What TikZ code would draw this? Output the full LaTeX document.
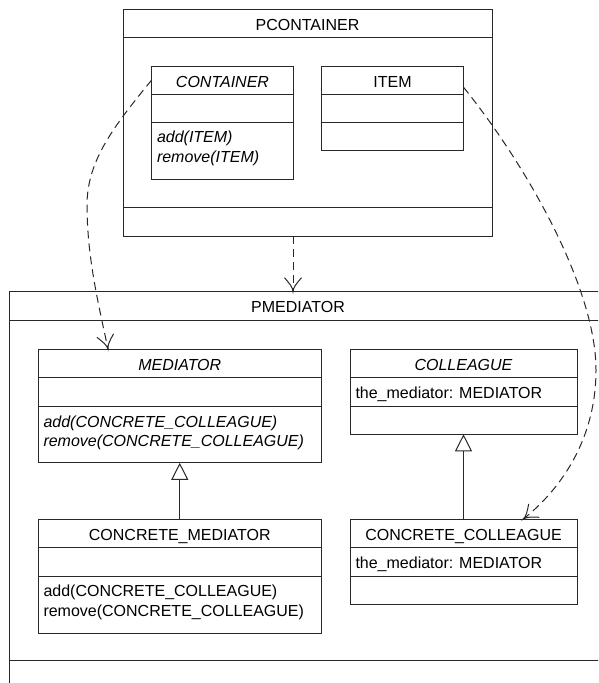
\documentclass[tikz,border=0pt]{standalone}
\usepackage{fontspec}
\setmainfont{Liberation Sans}
\usetikzlibrary{arrows.meta}
\definecolor{linecol}{RGB}{40,40,40}

% Open "Y"-shaped barb used on dependency arrows
\pgfdeclarearrow{
  name = YBarb,
  parameters = {\the\pgfarrowlength,\the\pgfarrowwidth},
  setup code = {
    \pgfarrowssettipend{0pt}
    \pgfarrowssetlineend{0pt}
    \pgfarrowssetbackend{-\pgfarrowlength}
    \pgfarrowssavethe\pgfarrowlength
    \pgfarrowssavethe\pgfarrowwidth
  },
  drawing code = {
    \pgfsetdash{}{0pt}
    \pgfpathmoveto{\pgfqpoint{-\pgfarrowlength}{.5\pgfarrowwidth}}
    \pgfpathcurveto{\pgfqpoint{-.6\pgfarrowlength}{.22\pgfarrowwidth}}{\pgfqpoint{-.3\pgfarrowlength}{0pt}}{\pgfqpoint{0pt}{0pt}}
    \pgfpathcurveto{\pgfqpoint{-.3\pgfarrowlength}{0pt}}{\pgfqpoint{-.6\pgfarrowlength}{-.22\pgfarrowwidth}}{\pgfqpoint{-\pgfarrowlength}{-.5\pgfarrowwidth}}
    \pgfusepathqstroke
  },
  defaults = {length = 14pt, width = 17pt}
}

% A class box with a header band and two compartments below it
\newcommand\umlclass[6]{%
  \node[umlbox, minimum width=#4pt, minimum height=#5pt] (#1) at (#2,#3) {};
  \node[hdr, minimum width=#4pt] (#1H) at (#2,#3) {#6};
  \draw[compline] (#1H.south west) -- (#1H.south east);
  \draw[compline] ([yshift=-28.4pt]#1H.south west) -- ([yshift=-28.4pt]#1H.south east);
}

\begin{document}
\begin{tikzpicture}[x=1pt,y=-1pt,
  line width=1pt,
  umlbox/.style={draw=linecol, rectangle, inner sep=0pt, outer sep=0pt, anchor=north west},
  hdr/.style={inner sep=0pt, outer sep=0pt, anchor=north west, text height=14pt, text depth=0pt, minimum height=28.4pt},
  member/.style={anchor=base west, inner sep=0pt},
  compline/.style={draw=linecol},
  dep/.style={draw=linecol, dash pattern=on 8pt off 5pt, -{YBarb[length=14pt,width=17pt]}},
  gen/.style={draw=linecol, -{Triangle[open, length=17pt, width=17pt, fill=white]}},
  font=\fontsize{16}{19}\selectfont]

\useasboundingbox (0,0) rectangle (598,683);
\clip (0,0) rectangle (598,683);

% ---- package PCONTAINER ----
\node[umlbox, minimum width=369pt, minimum height=226.7pt] (pcontainer) at (123,9.3) {};
\node[hdr, minimum width=369pt] (pcontainerH) at (123,9.3) {PCONTAINER};
\draw[compline] (pcontainerH.south west) -- (pcontainerH.south east);
\draw[compline] ([yshift=29pt]pcontainer.south west) -- ([yshift=29pt]pcontainer.south east);

\umlclass{container}{151.5}{66}{142}{113.3}{\itshape CONTAINER}
\node[member] (containerA) at (156.5,142.2) {\itshape add(ITEM)};
\node[member] (containerB) at (156.5,162.2) {\itshape remove(ITEM)};

\umlclass{item}{321.5}{66}{142}{84.7}{ITEM}

% ---- package PMEDIATOR (runs past the right and bottom edges) ----
\node[umlbox, minimum width=700pt, minimum height=450pt] (pmediator) at (9.5,291.7) {};
\node[hdr, minimum width=577pt] (pmediatorH) at (9.5,291.7) {PMEDIATOR};
\draw[compline] ([yshift=-28.8pt]pmediator.north west) -- ([yshift=-28.8pt]pmediator.north east);
\draw[compline] ([yshift=-369pt]pmediator.north west) -- ([yshift=-369pt]pmediator.north east);

\umlclass{mediator}{38}{349.3}{283.5}{113.5}{\itshape MEDIATOR}
\node[member] (mediatorA) at (43,427) {\itshape add(CONCRETE\_COLLEAGUE)};
\node[member] (mediatorB) at (43,446.5) {\itshape remove(CONCRETE\_COLLEAGUE)};

\umlclass{colleague}{350}{349.3}{227}{85}{\itshape COLLEAGUE}
\node[member] (colleagueA) at (355,398.5) {the\_mediator: MEDIATOR};

\umlclass{cmediator}{38}{519.3}{283.5}{113.7}{CONCRETE\_MEDIATOR}
\node[member] (cmediatorA) at (43,596.5) {add(CONCRETE\_COLLEAGUE)};
\node[member] (cmediatorB) at (43,616) {remove(CONCRETE\_COLLEAGUE)};

\umlclass{ccolleague}{350}{519.3}{227}{85}{CONCRETE\_COLLEAGUE}
\node[member] (ccolleagueA) at (355,568.5) {the\_mediator: MEDIATOR};

% ---- generalizations ----
\draw[gen] (cmediator.north) -- (mediator.south);
\draw[gen] (ccolleague.north) -- (colleague.south);

% ---- dependencies ----
\coordinate (depTop) at ([xshift=-14.5pt]pcontainer.south);
\draw[dep] (depTop) -- (depTop |- pmediator.north);

\coordinate (leftBend) at (87,205);
\draw[dep] (containerH.west) .. controls (115,125) and (87,160) .. (leftBend)
  .. controls (87,260) and (100,310) .. ([xshift=70pt]mediator.north west);

\coordinate (rightBend) at (596,370);
\draw[dep] ([yshift=-7pt]itemH.east) .. controls (530,170) and (596,290) .. (rightBend)
  .. controls (596,440) and (560,490) .. ([xshift=173pt]ccolleague.north west);

\end{tikzpicture}
\end{document}
